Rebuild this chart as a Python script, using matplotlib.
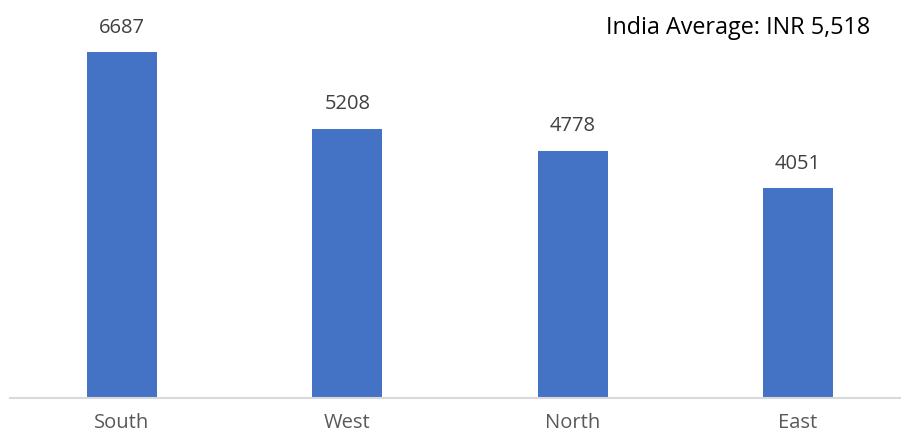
import matplotlib.pyplot as plt

# data
regions = ['South', 'West', 'North', 'East']
avg_spend = [6687, 5208, 4778, 4051]
india_avg = 'India Average: INR 5,518'

plt.rcParams['font.family'] = ['Open Sans', 'DejaVu Sans']

fig = plt.figure(figsize=(9.01, 4.36), dpi=100)
ax = fig.add_axes([10/901, 38/436, 891/901, 398/436])

x = range(len(regions))
bars = ax.bar(x, avg_spend, width=0.31, color='#4472C4', zorder=2)

# value labels above bars
for xi, v in zip(x, avg_spend):
    ax.annotate(str(v), (xi, v), xytext=(0, 14), textcoords='offset points',
                ha='center', va='baseline', fontsize=14.5, color='#404040')

ax.set_xlim(-0.497, 3.457)
ax.set_ylim(0, 7692)
ax.set_xticks(list(x))
ax.set_xticklabels(regions, fontsize=14.5, color='#595959')
ax.tick_params(axis='x', length=0, pad=11)
ax.set_yticks([])

for s in ['top', 'right', 'left']:
    ax.spines[s].set_visible(False)
ax.spines['bottom'].set_color('#D9D9D9')
ax.spines['bottom'].set_linewidth(1.5)

fig.text(870/901, 1 - 28/436, india_avg, ha='right', va='center',
         fontsize=16.8, color='#000000')

fig.savefig('out.png', dpi=100)
